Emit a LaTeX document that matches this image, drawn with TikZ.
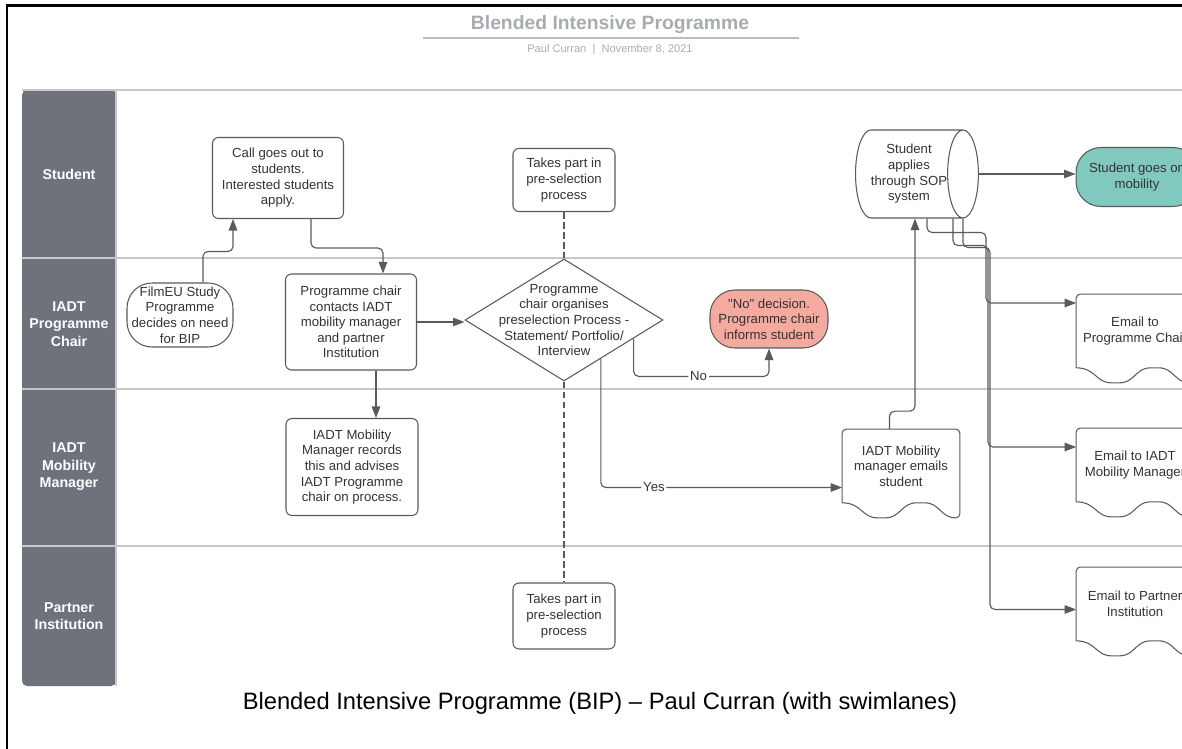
\documentclass[tikz,border=0pt]{standalone}
\usepackage{fontspec}
\setmainfont{Liberation Sans}[Ligatures=TeXOff]
\usetikzlibrary{positioning, shapes.geometric, arrows.meta, calc}
\definecolor{lanegray}{HTML}{6D727B}
\definecolor{laneline}{HTML}{C8C8C8}
\definecolor{inkgray}{HTML}{5A5A5A}
\definecolor{textgray}{HTML}{333333}
\definecolor{titlegray}{HTML}{A8ACB1}
\definecolor{nofill}{HTML}{F5AA9F}
\definecolor{gofill}{HTML}{81C9BE}
\tikzset{lanehead/.style={text=white, font=\fontsize{8.1}{9.9}\selectfont\bfseries, align=center}}

\begin{document}
\begin{tikzpicture}[x=0.02cm, y=-0.02cm,
		txt/.style={align=center, text=textgray, font=\fontsize{7.5}{8.9}\selectfont},
		box/.style={txt, draw=inkgray, line width=0.6pt, rounded corners=0.12cm, inner sep=0pt},
		terminal/.style={box, rounded corners=0.5cm},
		decision/.style={draw=inkgray, line width=0.6pt, diamond, inner sep=0pt, minimum width=3.96cm, minimum height=2.44cm},
		doc/.style={txt, inner sep=0pt, minimum width=2.34cm, minimum height=1.46cm},
		docline/.style={draw=inkgray, line width=0.6pt, rounded corners=0.08cm},
		store/.style={txt, cylinder, draw=inkgray, line width=0.6pt, aspect=0.52, inner sep=0pt, minimum width=1.76cm, minimum height=2.3cm},
		flow/.style={->, >={Triangle[length=0.23cm, width=0.17cm]}, draw=inkgray, line width=0.65pt, rounded corners=0.1cm},
		link/.style={draw=inkgray, line width=0.6pt, dash pattern=on 0.13cm off 0.07cm},
		lbl/.style={txt, fill=white, inner sep=1pt}
		]
		\clip (0,0) rectangle (1182,749);
		\draw[line width=1.2pt] (7,749) -- (7,5.5) -- (1182,5.5);
		
		% Title
		\node[font=\fontsize{11}{13}\selectfont\bfseries, text=titlegray] (title) at (610,25) {Blended Intensive Programme};
		\draw[titlegray!80, line width=1.2pt] (423,38) -- (799,38);
		\node[font=\fontsize{6.3}{7.5}\selectfont, text=titlegray] (byline) at (610,50) {Paul Curran \ | \ November 8, 2021};
		
		% Swimlanes
		\fill[lanegray, rounded corners=0.1cm] (22,90) rectangle (116,686);
		\foreach \y in {90,258,389,546}
			\draw[laneline, line width=0.9pt] (22,\y) -- (1182,\y);
		\draw[laneline, line width=0.9pt] (116,90) -- (116,686);
		
		\node[lanehead] (hstudent) at (69,174) {Student};
		\node[lanehead] (hchair) at (69,324) {IADT\\Programme\\Chair};
		\node[lanehead] (hmanager) at (69,467) {IADT\\Mobility\\Manager};
		\node[lanehead] (hpartner) at (69,616) {Partner\\Institution};
		
		% Steps
		\node[box, minimum width=2.62cm, minimum height=1.62cm] (call) at (278,178) {Call goes out to\\students.\\Interested students\\apply.};
		\node[terminal, minimum width=2.12cm, minimum height=1.28cm] (filmeu) at (180,315) {FilmEU Study\\Programme\\decides on need\\for BIP};
		\node[box, minimum width=2.62cm, minimum height=1.92cm] (contact) at (351,322) {Programme chair\\contacts IADT\\mobility manager\\and partner\\Institution};
		\node[box, minimum width=2.64cm, minimum height=1.94cm] (record) at (352,467) {IADT Mobility\\Manager records\\this and advises\\IADT Programme\\chair on process.};
		\node[decision, label={[txt]center:{Programme\\chair organises\\preselection Process -\\Statement/ Portfolio/\\Interview}}] (choice) at (564,320) {};
		\node[box, minimum width=2.04cm, minimum height=1.26cm] (pretop) at (564,180) {Takes part in\\pre-selection\\process};
		\node[box, minimum width=2.04cm, minimum height=1.32cm] (prebot) at (564,616) {Takes part in\\pre-selection\\process};
		\node[terminal, fill=nofill, minimum width=2.36cm, minimum height=1.16cm] (nodec) at (769,319) {"No" decision.\\Programme chair\\informs student};
		\node[doc] (emails) at (901,466) {IADT Mobility\\manager emails\\student};
		\node[store] (sop) at (909,174) {Student\\applies\\through SOP\\system};
		\node[terminal, fill=gofill, minimum width=2.44cm, minimum height=1.18cm] (mobility) at (1137,177) {Student goes on\\mobility};
		\node[doc] (mailchair) at (1135,331) {Email to\\Programme Chair};
		\node[doc] (mailmanager) at (1135,465) {Email to IADT\\Mobility Manager};
		\node[doc] (mailpartner) at (1135,604) {Email to Partner\\Institution};
		
		% Document outlines
		\foreach \d in {emails, mailchair, mailmanager, mailpartner}
			\draw[docline] (\d.south west) -- (\d.north west) -- (\d.north east) -- ([yshift=-0.3cm]\d.south east)
				.. controls +(-0.39cm,0) and +(0.39cm,0) .. ($(\d.south west)!0.667!(\d.south east)$)
				.. controls +(-0.39cm,0) and +(0.39cm,0) .. ([yshift=-0.3cm]$(\d.south west)!0.333!(\d.south east)$)
				.. controls +(-0.39cm,0) and +(0.39cm,0) .. (\d.south west);
		
		% Connectors
		\draw[flow] ([xshift=0.46cm]filmeu.north) -- ++(0,-31) -| ([xshift=-0.9cm]call.south);
		\draw[flow] ([xshift=0.66cm]call.south) -- ++(0,29) -| ([xshift=0.64cm]contact.north);
		\draw[flow] ([xshift=0.5cm]contact.south) -- ([xshift=0.5cm]contact.south |- record.north);
		\draw[flow] (contact.east) -- (contact.east -| choice.west);
		\draw[link] (pretop.south) -- (choice.north);
		\draw[link] (choice.south) -- (prebot.north);
		\draw[flow] ($(choice.east)!0.3!(choice.south)$) -- ++(0,38) -| node[lbl, pos=0.24] {No} (nodec.south);
		\draw[flow] ($(choice.east)!0.63!(choice.south)$) |- node[lbl, pos=0.61] {Yes} ([yshift=-0.43cm]emails.west);
		\draw[flow] ([xshift=-0.23cm]emails.north) -- ++(0,-18) -| ([xshift=0.12cm]sop.south);
		\draw[flow] (sop.east) -- (sop.east -| mobility.west);
		\draw[flow] ([xshift=0.36cm]sop.south) -- ++(0,14) -- ++(59,0) |- ([yshift=0.56cm]mailchair.west);
		\draw[flow] ([xshift=0.88cm]sop.south) -- ++(0,27) -- ++(35,0) |- ([yshift=0.36cm]mailmanager.west);
		\draw[flow] ([xshift=1.08cm]sop.south) -- ++(0,29) -- ++(27,0) |- ([yshift=-0.11cm]mailpartner.west);
		
		\node[font=\fontsize{13.5}{16}\selectfont] (caption) at (600,703) {Blended Intensive Programme (BIP) – Paul Curran (with swimlanes)};
	\end{tikzpicture}
\end{document}
